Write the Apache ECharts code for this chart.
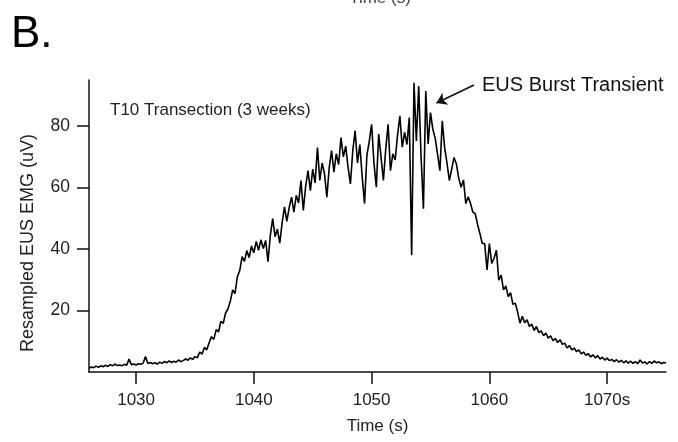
<!DOCTYPE html>
<html>
<head>
<meta charset="utf-8">
<script src="https://cdn.jsdelivr.net/npm/echarts@6/dist/echarts.min.js"></script>
<style>
html,body{margin:0;padding:0;background:#fff;}
#chart{width:678px;height:442px;}
</style>
</head>
<body>
<div id="chart"></div>
<script>
// Sampling of the resampled EMG trace (seconds)
var tStart = 1026.0;
var tStep = 0.2;
// Resampled EUS EMG (uV), one value per sample
var emgValues = [
  1.2,1.6,1.4,1.9,1.5,2.0,1.7,2.2,1.8,2.4,
  2.0,2.6,2.1,2.3,2.0,2.5,2.2,4.2,2.4,2.6,
  2.3,2.7,2.5,2.9,5.0,2.8,3.1,2.7,3.0,2.6,
  3.2,2.8,3.4,3.0,3.6,3.1,3.5,3.2,3.9,3.4,
  3.7,4.3,3.8,4.6,4.1,
  5.0,4.6,6.5,5.8,8.0,7.2,9.5,11.5,10.6,13.8,
  13.0,16.5,15.8,19.2,20.5,23.0,26.7,25.5,31.0,33.0,
  37.5,36.0,39.5,37.2,41.0,
  38.8,42.5,39.6,43.0,40.2,42.8,35.9,44.5,49.9,44.0,
  46.5,41.9,48.5,53.7,49.0,53.5,56.9,52.0,57.5,55.0,
  62.3,52.6,60.5,65.5,59.0,66.0,61.5,73.0,62.3,68.0,
  64.5,56.9,66.5,72.0,65.0,71.0,67.5,76.3,70.0,73.5,
  66.6,61.2,72.0,78.5,68.0,74.0,63.5,54.8,70.5,75.0,
  80.6,68.0,60.1,77.4,70.0,62.3,72.5,80.6,65.5,71.0,
  69.0,77.0,83.3,73.1,78.0,
  74.0,82.8,38.0,94.1,75.2,93.0,70.0,53.1,91.4,74.2,
  84.4,79.0,76.0,70.9,65.5,
  81.7,73.1,68.0,62.3,66.0,69.8,67.7,63.0,60.1,62.5,
  54.8,57.0,54.8,52.0,51.5,48.0,45.0,41.8,41.8,33.2,
  41.8,35.3,37.0,39.6,29.9,31.5,26.7,28.0,24.5,25.8,
  22.0,22.4,19.5,15.9,18.1,16.0,17.0,14.8,15.6,13.5,
  14.8,12.8,13.4,11.8,12.7,
  11.0,11.8,10.2,10.9,9.6,10.5,9.0,9.4,7.8,8.6,
  7.2,7.8,6.6,7.2,5.9,6.5,5.4,6.0,4.9,5.6,
  4.6,5.3,4.2,4.8,3.9,
  4.5,3.7,4.1,3.4,4.0,3.2,3.8,3.0,3.6,2.9,
  3.5,2.8,3.4,2.7,3.9,2.9,3.3,2.6,3.4,2.8,
  3.6,3.0,3.3,2.7,3.1,2.9
];
var xTicks = [1030, 1040, 1050, 1060, 1070];
var yTicks = [20, 40, 60, 80];
var xRange = [1026, 1075];
var yRange = [0, 95];
var arrowFrom = [1058.7, 93.4];
var arrowTo = [1055.5, 87.5];

var seriesData = emgValues.map(function (v, i) {
  return [Math.round((tStart + i * tStep) * 10) / 10, v];
});

var FONT = '"Liberation Sans", Arial, sans-serif';
var chart = echarts.init(document.getElementById('chart'), null, {renderer: 'canvas'});
chart.setOption({
  animation: false,
  backgroundColor: '#ffffff',
  grid: {left: 89, right: 12, top: 80, bottom: 70, containLabel: false},
  xAxis: {
    type: 'value',
    min: xRange[0], max: xRange[1],
    splitLine: {show: false},
    axisLine: {show: true, onZero: false, lineStyle: {color: '#111', width: 1.5}},
    axisTick: {show: true, customValues: xTicks, length: 12, lineStyle: {color: '#111', width: 1.5}},
    axisLabel: {
      customValues: xTicks, margin: 20, fontSize: 17, color: '#222', fontFamily: FONT,
      formatter: function (v) { return v === xTicks[xTicks.length - 1] ? v + 's' : String(v); }
    },
    name: 'Time (s)', nameLocation: 'middle', nameGap: 46,
    nameTextStyle: {fontSize: 17, color: '#222', fontFamily: FONT}
  },
  yAxis: {
    type: 'value',
    min: yRange[0], max: yRange[1],
    splitLine: {show: false},
    axisLine: {show: true, onZero: false, lineStyle: {color: '#111', width: 1.5}},
    axisTick: {show: true, customValues: yTicks, length: 12, lineStyle: {color: '#111', width: 1.5}},
    axisLabel: {customValues: yTicks, margin: 19, fontSize: 17.5, color: '#222', fontFamily: FONT}
  },
  series: [{
    type: 'line',
    data: seriesData,
    showSymbol: false,
    symbol: 'none',
    lineStyle: {color: '#000', width: 1.6},
    markLine: {
      silent: true,
      symbol: ['none', 'arrow'],
      symbolSize: 10,
      lineStyle: {color: '#111', width: 1.6, type: 'solid'},
      label: {show: false},
      data: [[{coord: arrowFrom}, {coord: arrowTo}]]
    }
  }],
  graphic: [
    {type: 'text', x: 380, y: 7, style: {text: 'Time (s)', fontSize: 17, fontFamily: FONT, fill: '#444', align: 'center', verticalAlign: 'bottom'}},
    {type: 'text', x: 11, y: 57, style: {text: 'B.', fontSize: 44, fontFamily: FONT, fill: '#000', align: 'left', verticalAlign: 'bottom'}},
    {type: 'text', x: 110, y: 110, style: {text: 'T10 Transection (3 weeks)', fontSize: 17, fontFamily: FONT, fill: '#222', align: 'left', verticalAlign: 'middle'}},
    {type: 'text', x: 482, y: 85, style: {text: 'EUS Burst Transient', fontSize: 20, fontFamily: FONT, fill: '#111', align: 'left', verticalAlign: 'middle'}},
    {type: 'text', x: 28, y: 243, rotation: Math.PI / 2, style: {text: 'Resampled EUS EMG (uV)', fontSize: 18, fontFamily: FONT, fill: '#222', align: 'center', verticalAlign: 'middle'}}
  ]
});
</script>
</body>
</html>
